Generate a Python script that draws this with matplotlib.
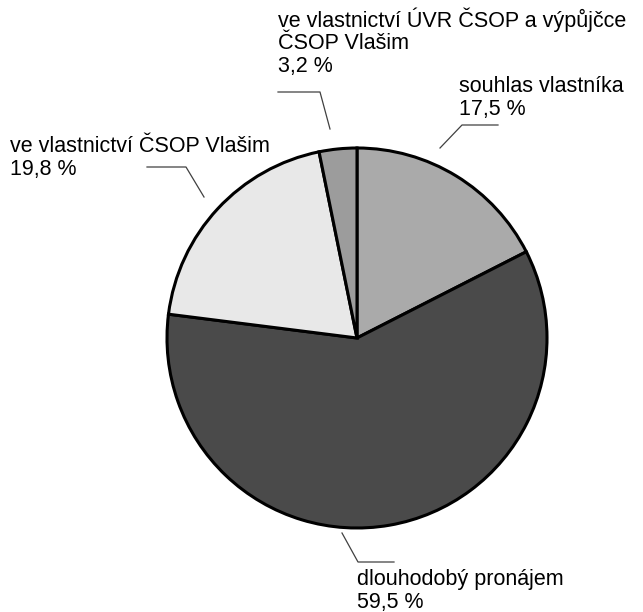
import matplotlib
matplotlib.use("Agg")
import matplotlib.pyplot as plt

plt.rcParams['font.family'] = ['Liberation Sans', 'DejaVu Sans']

labels = ["souhlas vlastníka", "dlouhodobý pronájem",
          "ve vlastnictví ČSOP Vlašim",
          "ve vlastnictví ÚVR ČSOP a výpůjčce\nČSOP Vlašim"]
values = [17.5, 59.5, 19.8, 3.2]
colors = ["#aaaaaa", "#4a4a4a", "#e8e8e8", "#9c9c9c"]

W, H = 643, 612


def py(y):
    # pixel row (from top) -> data y
    return H - y


fig = plt.figure(figsize=(W / 100, H / 100), dpi=100)
ax = fig.add_axes([0, 0, 1, 1])
ax.set_xlim(0, W)
ax.set_ylim(0, H)
ax.set_aspect('equal')
ax.axis('off')

ax.pie(values, colors=colors, startangle=90, counterclock=False,
       center=(357, py(338)), radius=190,
       wedgeprops=dict(edgecolor='black', linewidth=2.2))
ax.set_xlim(0, W)
ax.set_ylim(0, H)

# label text position (left, top) and leader line points in pixels
label_pos = [(459, 76), (357, 569), (10, 136), (278, 7)]
leaders = [
    [(440, 148), (462, 125), (498, 125)],
    [(342, 533), (358, 562), (394, 562)],
    [(204, 197), (186, 167), (147, 167)],
    [(330, 129), (320, 92), (278, 92)],
]

for lab, val, (x, y), pts in zip(labels, values, label_pos, leaders):
    txt = lab + "\n" + f"{val:.1f} %".replace(".", ",")
    ax.text(x, py(y), txt, ha='left', va='top', fontsize=15.5,
            linespacing=1.12, color='black')
    ax.plot([p[0] for p in pts], [py(p[1]) for p in pts],
            color='#404040', linewidth=0.9)

fig.savefig("out.png", dpi=100)
